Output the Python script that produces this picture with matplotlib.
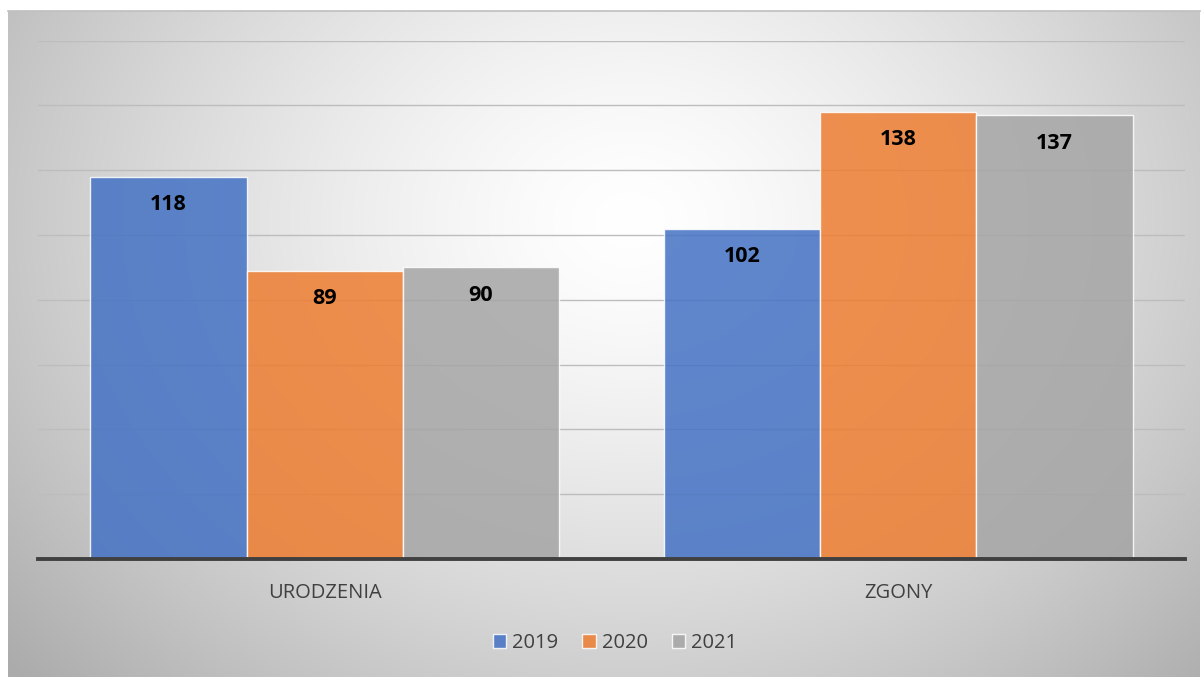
import numpy as np
import matplotlib
matplotlib.use("Agg")
import matplotlib.pyplot as plt

categories = ["URODZENIA", "ZGONY"]
years = ["2019", "2020", "2021"]
values_2019 = [118, 102]
values_2020 = [89, 138]
values_2021 = [90, 137]
series = [values_2019, values_2020, values_2021]
colors = ["#4472C4", "#ED7D31", "#A5A5A5"]

W, H = 1202, 677
fig = plt.figure(figsize=(W / 100, H / 100), dpi=100)
fig.patch.set_facecolor("white")

# background gradient panel
bx0, by0, bx1, by1 = 8, 11, 1200, 677
bg = fig.add_axes([bx0 / W, 1 - by1 / H, (bx1 - bx0) / W, (by1 - by0) / H])
ny, nx = 300, 500
yy, xx = np.mgrid[0:ny, 0:nx]
px = bx0 + xx / (nx - 1) * (bx1 - bx0)
py = by0 + yy / (ny - 1) * (by1 - by0)
cx, cy = 630, 220
r = np.sqrt(((px - cx) / 640) ** 2 + ((py - cy) / 520) ** 2)
v = 255 - 58 * np.clip(r, 0, 1.3) ** 1.4
img = np.dstack([v, v, v]) / 255.0
bg.imshow(np.clip(img, 0, 1), aspect="auto", extent=[0, 1, 0, 1], origin="upper")
bg.set_xticks([]); bg.set_yticks([])
for s in ["left", "right", "bottom"]:
    bg.spines[s].set_visible(False)
bg.spines["top"].set_color("#BFBFBF")
bg.spines["top"].set_linewidth(1.2)

# main axes
ax0, ax1, ay_top, ay_bot = 38, 1185, 40.6, 559
ax = fig.add_axes([ax0 / W, 1 - ay_bot / H, (ax1 - ax0) / W, (ay_bot - ay_top) / H])
ax.set_facecolor("none")
ax.set_xlim(-0.5, 1.5)
ax.set_ylim(0, 160)
ax.set_yticks(np.arange(20, 161, 20))
ax.yaxis.grid(True, color="#BDBDBD", linewidth=1.0)
ax.set_axisbelow(True)
ax.tick_params(axis="y", length=0, labelleft=False)
ax.tick_params(axis="x", length=0, pad=17, labelsize=14.5, labelcolor="#404040")
for s in ["left", "right", "top"]:
    ax.spines[s].set_visible(False)
ax.spines["bottom"].set_color("#404040")
ax.spines["bottom"].set_linewidth(2.8)

x = np.arange(len(categories))
bw = 0.2725
for i, (vals, c, yr) in enumerate(zip(series, colors, years)):
    xs = x + (i - 1) * bw
    ax.bar(xs, vals, width=bw, color=c, alpha=0.85, edgecolor="white",
           linewidth=1.0, label=yr, zorder=2)
    for xi, vv in zip(xs, vals):
        ax.annotate(str(vv), (xi, vv), xytext=(0, -28), textcoords="offset pixels",
                    ha="center", va="center", fontsize=15.5, fontweight="bold",
                    color="black", family="Open Sans", zorder=3)

ax.set_xticks(x)
ax.set_xticklabels(categories, family="Open Sans")

fig.legend(loc="center", bbox_to_anchor=(615 / W, 1 - 643 / H), ncol=3,
           frameon=False, prop={"family": "Open Sans", "size": 14.5},
           handlelength=0.65, handleheight=0.65, handletextpad=0.3,
           columnspacing=1.2, labelcolor="#404040")

fig.savefig("out.png", dpi=100)
